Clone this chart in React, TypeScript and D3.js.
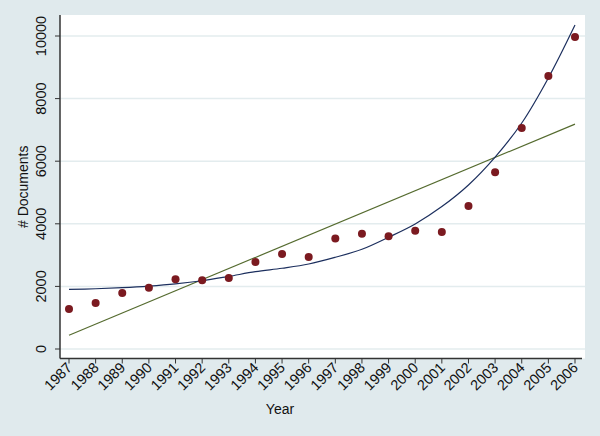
import React from "react";
import * as d3 from "d3";

const years = [1987,1988,1989,1990,1991,1992,1993,1994,1995,1996,1997,1998,1999,2000,2001,2002,2003,2004,2005,2006];
const documents = [1280,1470,1790,1960,2230,2200,2270,2780,3035,2940,3530,3680,3600,3780,3740,4570,5650,7060,8720,9970];
const curveFit = [1905,1925,1960,2010,2080,2180,2320,2470,2580,2715,2930,3185,3570,3995,4550,5240,6130,7220,8660,10350];
const yTicks = [0,2000,4000,6000,8000,10000];

const W = 600, H = 436;
const L = 60, R = 585, T = 15, B = 358.5;

export default function App() {
  const x = d3.scaleLinear().domain([1987, 2006]).range([69, 575]);
  const y = d3.scaleLinear().domain([0, 10000]).range([349, 36]);

  // OLS linear fit
  const mx = d3.mean(years)!;
  const my = d3.mean(documents)!;
  const sxy = d3.sum(years, (t, i) => (t - mx) * (documents[i] - my));
  const sxx = d3.sum(years, (t) => (t - mx) * (t - mx));
  const slope = sxy / sxx;
  const icpt = my - slope * mx;
  const linPts: [number, number][] = [years[0], years[years.length - 1]].map((t) => [t, icpt + slope * t]);

  const line = d3.line<[number, number]>().x((d) => x(d[0])).y((d) => y(d[1]));
  const curveLine = d3.line<[number, number]>().x((d) => x(d[0])).y((d) => y(d[1])).curve(d3.curveCatmullRom);
  const curvePts: [number, number][] = years.map((t, i) => [t, curveFit[i]]);

  const font = "Arial, 'Liberation Sans', sans-serif";

  return (
    <svg width={W} height={H} style={{ position: "absolute", left: 0, top: 0 }}>
      <rect x={0} y={0} width={W} height={H} fill="#e0eaed" />
      <rect x={L} y={T} width={R - L} height={B - T} fill="#ffffff" />
      {yTicks.map((v) => (
        <line key={"g" + v} x1={L} x2={R} y1={y(v)} y2={y(v)} stroke="#e3ecee" strokeWidth={1.5} />
      ))}
      <path d={line(linPts)!} fill="none" stroke="#556b2f" strokeWidth={1.2} />
      <path d={curveLine(curvePts)!} fill="none" stroke="#1c2f5e" strokeWidth={1.2} />
      {years.map((t, i) => (
        <circle key={"p" + t} cx={x(t)} cy={y(documents[i])} r={4} fill="#7b1a20" />
      ))}
      {/* axes */}
      <line x1={L} x2={L} y1={T} y2={B} stroke="#333" strokeWidth={1.5} />
      <line x1={L} x2={R - 3} y1={B} y2={B} stroke="#333" strokeWidth={1.5} />
      {yTicks.map((v) => (
        <g key={"yt" + v}>
          <line x1={L - 5} x2={L} y1={y(v)} y2={y(v)} stroke="#333" strokeWidth={1} />
          <text
            transform={`translate(45.5,${y(v)}) rotate(-90)`}
            textAnchor="middle"
            fontFamily={font}
            fontSize={14.5}
            fill="#111"
          >
            {v}
          </text>
        </g>
      ))}
      {years.map((t) => (
        <g key={"xt" + t}>
          <line x1={x(t)} x2={x(t)} y1={B} y2={B + 5} stroke="#333" strokeWidth={1} />
          <text
            transform={`translate(${x(t) + 4},${B + 10}) rotate(-45)`}
            textAnchor="end"
            fontFamily={font}
            fontSize={14.5}
            fill="#111"
          >
            {t}
          </text>
        </g>
      ))}
      <text x={280} y={414} textAnchor="middle" fontFamily={font} fontSize={14} fill="#111">Year</text>
      <text transform={`translate(28,${(T + B) / 2}) rotate(-90)`} textAnchor="middle" fontFamily={font} fontSize={14} fill="#111"># Documents</text>
    </svg>
  );
}
